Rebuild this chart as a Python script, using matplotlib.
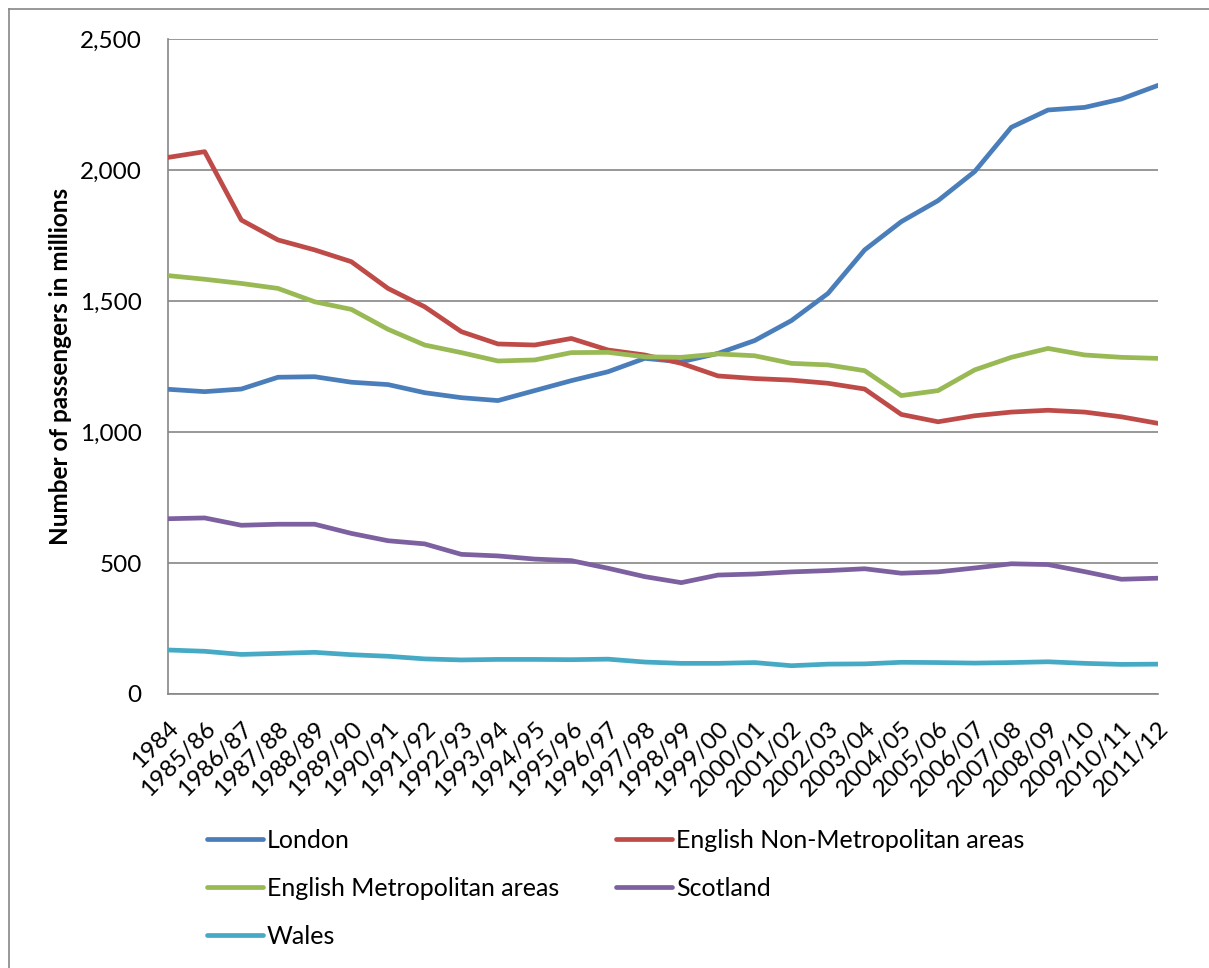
import matplotlib
matplotlib.use("Agg")
import matplotlib.pyplot as plt
from matplotlib.lines import Line2D
from matplotlib.ticker import FuncFormatter

plt.rcParams['font.family'] = ['Lato', 'DejaVu Sans']

years = ['1984', '1985/86', '1986/87', '1987/88', '1988/89', '1989/90', '1990/91',
         '1991/92', '1992/93', '1993/94', '1994/95', '1995/96', '1996/97', '1997/98',
         '1998/99', '1999/00', '2000/01', '2001/02', '2002/03', '2003/04', '2004/05',
         '2005/06', '2006/07', '2007/08', '2008/09', '2009/10', '2010/11', '2011/12']

london = [1163, 1154, 1164, 1209, 1211, 1190, 1181, 1150, 1131, 1120, 1158, 1196, 1230, 1281,
          1268, 1300, 1349, 1425, 1529, 1695, 1803, 1883, 1994, 2163, 2229, 2239, 2271, 2323]
non_metro = [2048, 2070, 1809, 1733, 1695, 1650, 1548, 1478, 1383, 1336, 1332, 1357, 1313, 1294,
             1262, 1214, 1204, 1198, 1186, 1164, 1067, 1039, 1062, 1076, 1083, 1076, 1058, 1033]
metro = [1597, 1583, 1567, 1548, 1497, 1468, 1392, 1332, 1303, 1271, 1275, 1303, 1304, 1287,
         1285, 1298, 1291, 1262, 1256, 1234, 1139, 1158, 1237, 1285, 1319, 1294, 1285, 1281]
scotland = [669, 672, 644, 648, 648, 613, 585, 573, 533, 527, 515, 509, 480, 448,
            425, 454, 458, 466, 471, 478, 461, 466, 481, 497, 494, 467, 438, 442]
wales = [168, 163, 151, 155, 159, 150, 144, 134, 130, 132, 132, 131, 133, 122,
         117, 117, 120, 108, 114, 115, 121, 120, 118, 120, 123, 117, 113, 114]

series = [
    ('London', london, '#4A7EBB'),
    ('English Non-Metropolitan areas', non_metro, '#BE4B48'),
    ('English Metropolitan areas', metro, '#98B954'),
    ('Scotland', scotland, '#7D60A0'),
    ('Wales', wales, '#46AAC5'),
]

W, H = 1209, 968
fig = plt.figure(figsize=(W / 100, H / 100), dpi=100)
ax = fig.add_axes([168 / W, 1 - 694 / H, (1158 - 168) / W, (694 - 39) / H])

x = list(range(len(years)))
handles = {}
for name, vals, col in series:
    h, = ax.plot(x, vals, color=col, lw=3.4, solid_capstyle='round', solid_joinstyle='round',
                 label=name, zorder=3)
    handles[name] = h

ax.set_xlim(0, len(years) - 1)
ax.set_ylim(0, 2500)
ax.set_yticks(range(0, 2501, 500))
ax.yaxis.set_major_formatter(FuncFormatter(lambda v, p: f'{int(v):,}'))
ax.set_xticks(x)
ax.set_xticklabels(years, rotation=45, ha='right', va='top', rotation_mode='anchor')
ax.tick_params(axis='both', length=0, labelsize=17.5)
ax.tick_params(axis='y', pad=19)
ax.tick_params(axis='x', pad=17)
ax.grid(axis='y', color='#868686', lw=1.2, zorder=1)
for s in ['top', 'right']:
    ax.spines[s].set_visible(False)
for s in ['left', 'bottom']:
    ax.spines[s].set_color('#868686')
    ax.spines[s].set_linewidth(1.2)

fig.text(60 / W, 1 - 366 / H, 'Number of passengers in millions', rotation=90,
         ha='center', va='center', fontsize=17.5, fontweight='bold')

# two legend columns placed separately
leg_kw = dict(loc='upper left', frameon=False, fontsize=18, handlelength=2.24,
              handletextpad=0.15, labelspacing=1.0, borderpad=0, borderaxespad=0)
col1 = ['London', 'English Metropolitan areas', 'Wales']
col2 = ['English Non-Metropolitan areas', 'Scotland']
fig.legend([handles[n] for n in col1], col1, bbox_to_anchor=(207 / W, 1 - 829 / H), **leg_kw)
fig.legend([handles[n] for n in col2], col2, bbox_to_anchor=(616 / W, 1 - 829 / H), **leg_kw)

# outer chart border (left and top edges visible)
fig.add_artist(Line2D([8.5 / W, 8.5 / W], [0, 1 - 9 / H], transform=fig.transFigure,
                      color='#868686', lw=1.2))
fig.add_artist(Line2D([8.5 / W, 1], [1 - 9 / H, 1 - 9 / H], transform=fig.transFigure,
                      color='#868686', lw=1.2))

fig.savefig('out.png', dpi=100)
